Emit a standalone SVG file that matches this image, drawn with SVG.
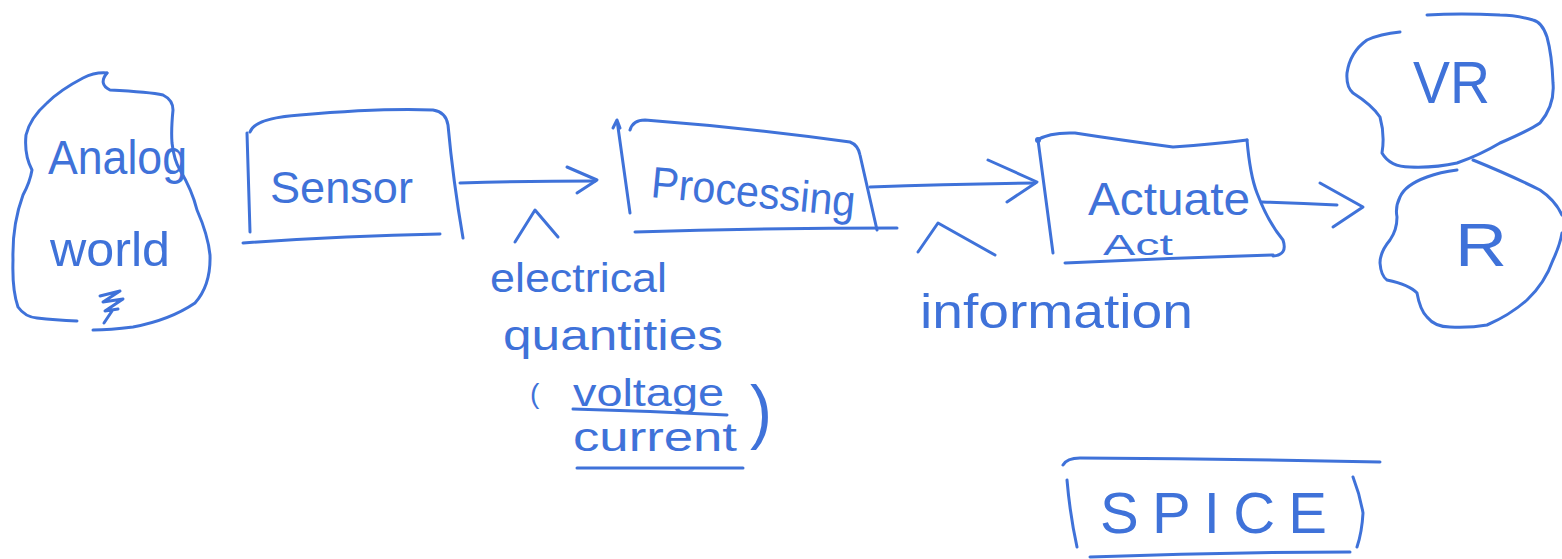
<svg xmlns="http://www.w3.org/2000/svg" width="1562" height="559" viewBox="0 0 1562 559">
  <style>
    .ink { fill: none; stroke: #3f72d9; stroke-width: 3; stroke-linecap: round; stroke-linejoin: round; }
    .hand { fill: #3f72d9; font-family: "Liberation Sans", "DejaVu Sans", sans-serif; font-weight: normal; }
  </style>
  <rect width="1562" height="559" fill="#ffffff"/>

  <!-- Analog world cloud -->
  <g id="analog-world">
    <path class="ink" d="M107,73 Q98,84 110,90 Q150,92 163,95 Q173,100 173,110 Q171,130 172,143 Q174,160 180,170 Q192,190 197,210 Q208,235 210,255 Q211,285 195,303 Q170,320 133,327 Q110,330 93,330"/>
    <path class="ink" d="M107,73 Q95,72 83,78 Q60,90 47,103 Q30,118 26,135 Q24,155 32,170 Q30,182 23,195 Q12,225 13,260 Q12,290 18,307 Q25,317 37,318 Q55,320 77,321"/>
    <text class="hand" x="48" y="174" font-size="48" textLength="139" lengthAdjust="spacingAndGlyphs">Analog</text>
    <text class="hand" x="50" y="266" font-size="48" textLength="120" lengthAdjust="spacingAndGlyphs">world</text>
    <path class="ink" d="M100,296 L120,291 L103,302 L123,299 L105,311 L118,309 M112,311 L104,323"/>
  </g>

  <!-- Sensor block -->
  <g id="sensor">
    <path class="ink" d="M247,133 L250,232"/>
    <path class="ink" d="M250,132 Q255,118 300,115 Q380,108 433,110 Q446,112 448,125 Q453,180 463,238"/>
    <path class="ink" d="M243,243 Q340,236 440,234"/>
    <text class="hand" x="270" y="203" font-size="44" textLength="143" lengthAdjust="spacingAndGlyphs">Sensor</text>
  </g>

  <!-- Processing block -->
  <g id="processing">
    <path class="ink" d="M617,120 L630,213 M613,128 L617,120 L620,128"/>
    <path class="ink" d="M630,130 Q633,120 645,120 Q750,128 850,142 Q858,145 860,155 L877,230"/>
    <path class="ink" d="M635,232 Q760,228 897,228"/>
    <text class="hand" x="650" y="197" font-size="44" textLength="205" lengthAdjust="spacingAndGlyphs" transform="rotate(5.5 650 197)">Processing</text>
  </g>

  <!-- Actuate block -->
  <g id="actuate">
    <path class="ink" d="M1037,140 Q1050,132 1075,133 Q1120,140 1173,147 Q1215,144 1247,140"/>
    <path class="ink" d="M1038,140 L1053,253"/>
    <circle cx="1038" cy="140" r="3" fill="#3f72d9"/>
    <path class="ink" d="M1247,140 Q1250,175 1257,193 Q1268,222 1283,240 Q1288,255 1273,256"/>
    <path class="ink" d="M1065,263 Q1170,258 1273,255"/>
    <text class="hand" x="1088" y="215" font-size="46" textLength="162" lengthAdjust="spacingAndGlyphs">Actuate</text>
    <text class="hand" x="1103" y="255" font-size="30" textLength="70" lengthAdjust="spacingAndGlyphs">Act</text>
  </g>

  <!-- VR cloud -->
  <g id="vr">
    <path class="ink" d="M1400,32 Q1380,34 1367,40 Q1350,52 1347,73 Q1346,87 1353,93 Q1372,105 1380,117 Q1385,135 1382,153 Q1390,167 1410,167 Q1435,168 1457,163 Q1480,155 1500,143 Q1530,130 1540,123 Q1555,105 1553,83 Q1552,55 1547,37 Q1542,22 1533,20 Q1515,15 1500,15 Q1460,13 1427,15"/>
    <text class="hand" x="1413" y="103" font-size="60" textLength="77" lengthAdjust="spacingAndGlyphs">VR</text>
  </g>

  <!-- R cloud -->
  <g id="r">
    <path class="ink" d="M1457,170 Q1440,172 1427,177 Q1405,185 1400,197 Q1395,207 1397,217 Q1397,230 1390,240 Q1380,252 1380,263 Q1381,276 1387,280 Q1410,285 1417,293 Q1420,310 1427,317 Q1435,327 1450,327 Q1470,328 1487,325 Q1510,315 1527,300 Q1545,283 1553,260 Q1560,245 1562,233"/>
    <path class="ink" d="M1473,160 Q1510,175 1540,190 Q1555,200 1562,215"/>
    <text class="hand" x="1455" y="266" font-size="62" textLength="52" lengthAdjust="spacingAndGlyphs">R</text>
  </g>

  <!-- SPICE block -->
  <g id="spice">
    <path class="ink" d="M1063,465 Q1067,458 1080,458 Q1230,459 1380,462"/>
    <path class="ink" d="M1067,480 Q1070,515 1077,547"/>
    <path class="ink" d="M1353,477 Q1360,495 1363,513 Q1362,532 1357,547"/>
    <path class="ink" d="M1090,557 Q1220,552 1350,552"/>
    <text class="hand" x="1100" y="533" font-size="58" textLength="227" lengthAdjust="spacing">SPICE</text>
  </g>

  <!-- Connectors between blocks -->
  <g id="connectors">
    <path class="ink" d="M460,183 Q530,181 595,181"/>
    <path class="ink" d="M567,167 L597,180 L577,193"/>
    <path class="ink" d="M870,187 Q950,184 1035,183"/>
    <path class="ink" d="M988,160 L1037,182 L1007,202"/>
    <path class="ink" d="M1262,202 Q1300,203 1337,205"/>
    <path class="ink" d="M1320,183 L1363,207 L1333,227"/>
  </g>

  <!-- Signal annotation under the first connector -->
  <g id="label-electrical">
    <path class="ink" d="M515,242 L535,210 L558,237"/>
    <text class="hand" x="490" y="292" font-size="40" textLength="177" lengthAdjust="spacingAndGlyphs">electrical</text>
    <text class="hand" x="503" y="350" font-size="42" textLength="220" lengthAdjust="spacingAndGlyphs">quantities</text>
    <text class="hand" x="530" y="403" font-size="28">(</text>
    <text class="hand" x="573" y="406" font-size="38" textLength="151" lengthAdjust="spacingAndGlyphs">voltage</text>
    <path class="ink" d="M573,409 Q650,411 727,415"/>
    <text class="hand" x="573" y="451" font-size="40" textLength="164" lengthAdjust="spacingAndGlyphs">current</text>
    <path class="ink" d="M577,468 L743,468"/>
    <text class="hand" x="750" y="435" font-size="70" textLength="22" lengthAdjust="spacingAndGlyphs">)</text>
  </g>

  <!-- Signal annotation under the second connector -->
  <g id="label-information">
    <path class="ink" d="M918,252 L938,223 L995,255"/>
    <text class="hand" x="920" y="328" font-size="48" textLength="273" lengthAdjust="spacingAndGlyphs">information</text>
  </g>
</svg>
